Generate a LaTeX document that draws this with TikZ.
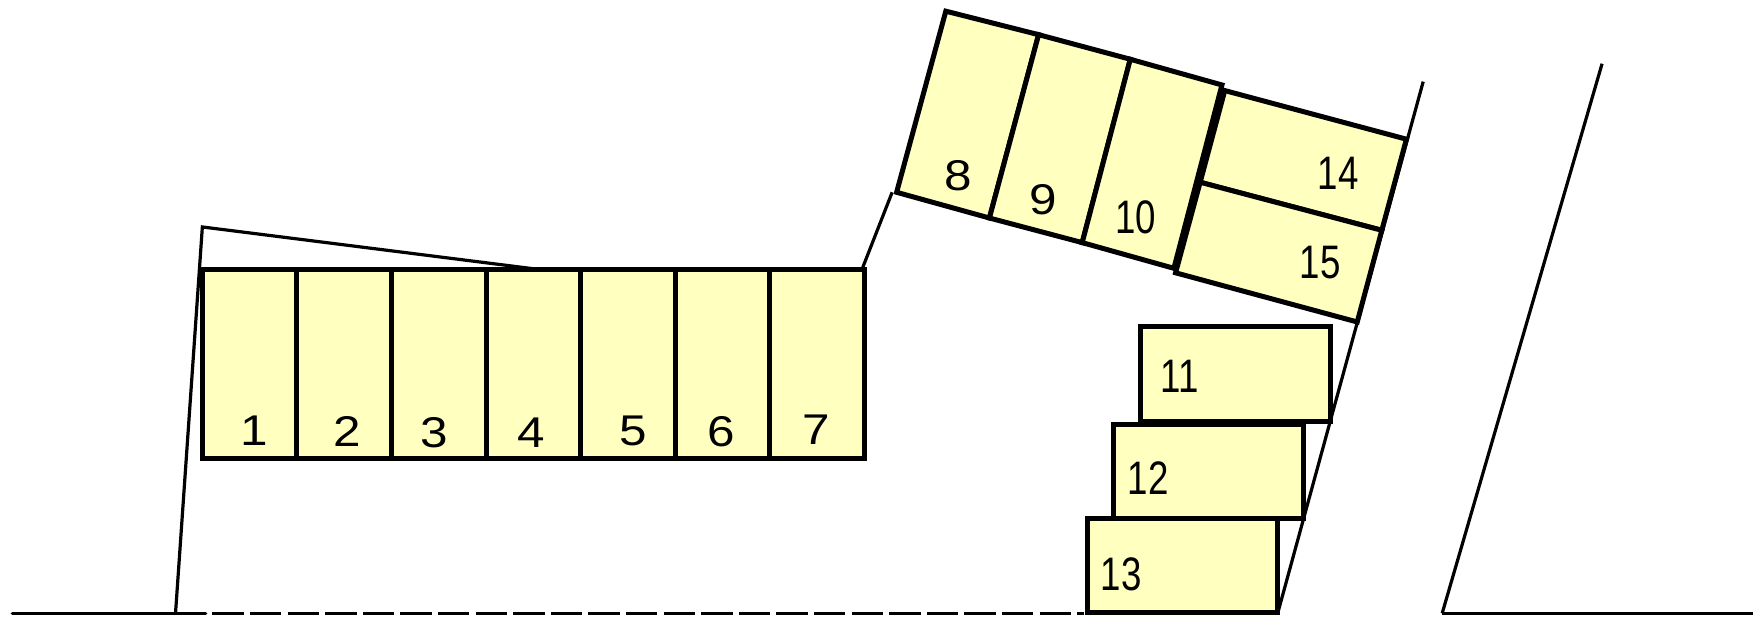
\documentclass[tikz,border=0pt]{standalone}
\usepackage{fontspec}
\setmainfont{Liberation Sans}
\definecolor{lotfill}{RGB}{255,255,192}
\tikzset{
  lot/.style={draw=black,fill=lotfill,line width=2.5pt,line join=miter},
  thin line/.style={draw=black,line width=1.6pt},
  wide/.style={font=\fontsize{21.5}{21.5}\selectfont,inner sep=0pt,xscale=1.15},
  narrow/.style={font=\fontsize{23.5}{23.5}\selectfont,inner sep=0pt,xscale=.78},
}
\begin{document}
\begin{tikzpicture}[x=0.559pt,y=-0.559pt]
\useasboundingbox (0,0) rectangle (1568,555.5);
% site outline
\coordinate (g0) at (11,548.5);
\coordinate (g1) at (184,548.5);
\coordinate (g2) at (190,548.5);
\coordinate (g3) at (970,548.5);
\coordinate (g4) at (1290,548.5);
\coordinate (g5) at (1568,548.5);
\coordinate (lb) at (157,548.5);
\coordinate (lt) at (181,203);
\coordinate (lr) at (482,241);
\coordinate (r1) at (771,241);
\coordinate (r2) at (798,172);
\coordinate (m0) at (1143,548);
\coordinate (m1) at (1273,73);
\coordinate (e1) at (1433,57);
\draw[thin line,line cap=round] (g0) -- (g1);
\draw[thin line,dash pattern=on 15.7pt off 3.1pt,line cap=butt] (g2) -- (g3);
\draw[thin line] (g4) -- (g5);
\draw[thin line,line join=miter] (lb) -- (lt) -- (lr);
\draw[thin line] (r1) -- (r2);
\draw[thin line] (m0) -- (m1);
\draw[thin line] (g4) -- (e1);
% row 1-7
\foreach \i [count=\j from 0] in {1,...,7}{
  \coordinate (a\i) at ({181+\j*84.6},241);
  \coordinate (b\i) at ({181+(\j+1)*84.6},241);
  \coordinate (c\i) at ({181+(\j+1)*84.6},410);
  \coordinate (d\i) at ({181+\j*84.6},410);
  \draw[lot] (a\i) -- (b\i) -- (c\i) -- (d\i) -- cycle;
}
% rotated block 8-10
\coordinate (q8a) at (846,10);   \coordinate (q8b) at (929,31);
\coordinate (q8c) at (885,195);  \coordinate (q8d) at (802,172);
\coordinate (q9b) at (1011,53);  \coordinate (q9c) at (968,217);
\coordinate (q10b) at (1093,76); \coordinate (q10c) at (1050,240);
\draw[lot] (q8a) -- (q8b) -- (q8c) -- (q8d) -- cycle;
\draw[lot] (q8b) -- (q9b) -- (q9c) -- (q8c) -- cycle;
\draw[lot] (q9b) -- (q10b) -- (q10c) -- (q9c) -- cycle;
% 14, 15
\coordinate (s1) at (1095.5,81);  \coordinate (s2) at (1258,124.5);
\coordinate (s3) at (1236,206); \coordinate (s4) at (1073.5,163);
\coordinate (s5) at (1214,288); \coordinate (s6) at (1051.5,244);
\draw[lot] (s1) -- (s2) -- (s3) -- (s4) -- cycle;
\draw[lot] (s4) -- (s3) -- (s5) -- (s6) -- cycle;
% 11-13
\draw[lot] (1020,292) rectangle (1190,377);
\draw[lot] (996,380) rectangle (1166,464);
\draw[lot] (973,464) rectangle (1143,548);
% labels
\node[wide] (n1) at (227,385) {1};
\node[wide] (n2) at (311,386) {2};
\node[wide] (n3) at (388,387) {3};
\node[wide] (n4) at (475,387) {4};
\node[wide] (n5) at (566,385) {5};
\node[wide] (n6) at (645,386) {6};
\node[wide] (n7) at (730,384) {7};
\node[wide] (n8) at (857,157) {8};
\node[wide] (n9) at (933,179) {9};
\node[narrow] (n10) at (1016,194) {10};
\node[narrow] (n11) at (1055,337) {11};
\node[narrow] (n12) at (1027,428) {12};
\node[narrow] (n13) at (1003,514) {13};
\node[narrow] (n14) at (1197,155) {14};
\node[narrow] (n15) at (1181,235) {15};
\end{tikzpicture}
\end{document}
